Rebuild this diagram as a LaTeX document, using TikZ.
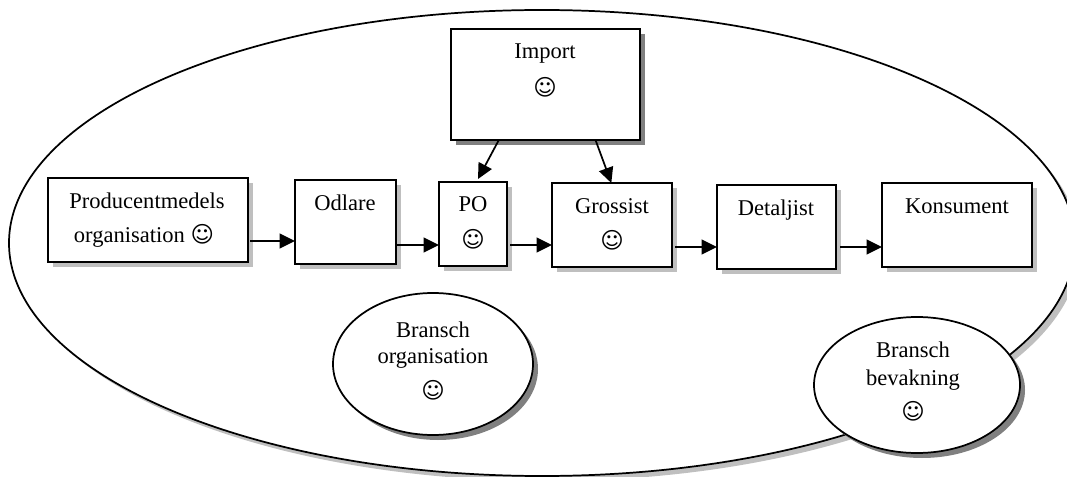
\documentclass[tikz,border=0pt]{standalone}
\usepackage{fontspec}
\setmainfont{Liberation Serif}
\newfontfamily\smileyfont{DejaVu Sans}
\usetikzlibrary{shapes.geometric,shadows,arrows.meta}
\newcommand{\happy}{{\smileyfont\symbol{"263A}}}
\tikzset{
  x=0.75pt,y=-0.75pt,
  sz/.style 2 args={minimum width=#1*0.75pt,minimum height=#2*0.75pt},
  lightsh/.style={general shadow={shadow xshift=3.75pt,shadow yshift=-3.75pt,fill=black!25,opacity=1}},
  darksh/.style={general shadow={shadow xshift=3.75pt,shadow yshift=-3.75pt,fill=black!50,opacity=1}},
  boxnode/.style={draw=black,line width=1.5pt,fill=white,inner sep=0pt,outer sep=0pt},
  ellnode/.style={ellipse,draw=black,line width=1.3pt,fill=white,inner sep=0pt,outer sep=0pt},
  txt/.style={font=\fontsize{16.9pt}{20pt}\selectfont,align=center,inner sep=0pt,anchor=base},
  conn/.style={line width=1.3pt,-{Triangle[length=11.5pt,width=11pt]}},
}
\begin{document}
\begin{tikzpicture}
\useasboundingbox (0,0) rectangle (1067,477);
\clip (0,0) rectangle (1067,477);
\node[ellnode,lightsh,sz={1066}{466}] (big) at (542,243) {};
\node[boxnode,darksh,sz={189}{111}] (imp) at (545.5,84.5) {};
\node[boxnode,lightsh,sz={200}{84}] (prod) at (148,220) {};
\node[boxnode,lightsh,sz={101}{84}] (odl) at (345.5,222) {};
\node[boxnode,lightsh,sz={68}{84}] (po) at (473,224) {};
\node[boxnode,lightsh,sz={120}{84}] (gro) at (612,225) {};
\node[boxnode,lightsh,sz={119}{84}] (det) at (776.5,227) {};
\node[boxnode,lightsh,sz={150}{84}] (kon) at (957,225) {};
\node[ellnode,darksh,sz={200}{142}] (org) at (433,364) {};
\node[ellnode,darksh,sz={206}{136}] (bev) at (917,385) {};
\node[txt] (timp) at (545,59) {Import};
\node[txt] (simp) at (545,96) {\happy};
\node[txt] (tprod) at (147,209) {Producentmedels};
\node[txt] (uprod) at (144,243) {organisation \happy};
\node[txt] (todl) at (345,211) {Odlare};
\node[txt] (tpo) at (473,212) {PO};
\node[txt] (spo) at (473,248) {\happy};
\node[txt] (tgro) at (612,214) {Grossist};
\node[txt] (sgro) at (612,249) {\happy};
\node[txt] (tdet) at (776,216) {Detaljist};
\node[txt] (tkon) at (957,214) {Konsument};
\node[txt] (torg) at (433,337) {Bransch};
\node[txt] (uorg) at (433,363) {organisation};
\node[txt] (sorg) at (433,398) {\happy};
\node[txt] (tbev) at (913,357) {Bransch};
\node[txt] (ubev) at (913,385) {bevakning};
\node[txt] (sbev) at (913,419) {\happy};
\draw[conn] ([shift={(2,21)}]prod.east) -- ([yshift=-14.25pt]odl.west);
\draw[conn] ([shift={(1,23)}]odl.east) -- ([yshift=-15.75pt]po.west);
\draw[conn] ([shift={(3,21)}]po.east) -- ([yshift=-15pt]gro.west);
\draw[conn] ([shift={(3,22)}]gro.east) -- ([yshift=-15pt]det.west);
\draw[conn] ([shift={(4,20)}]det.east) -- ([yshift=-16.5pt]kon.west);
\draw[conn] ([xshift=-35pt]imp.south) -- ([shift={(5,-3)}]po.north);
\draw[conn] ([xshift=37.5pt]imp.south) -- ([xshift=-0.5pt]gro.north);
\end{tikzpicture}
\end{document}
